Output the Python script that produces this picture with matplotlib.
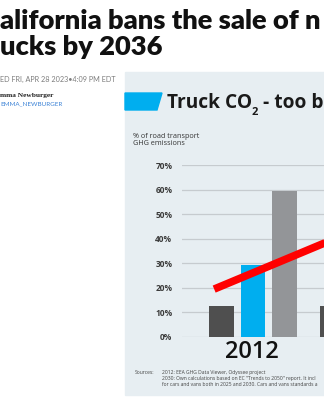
import numpy as np
from matplotlib import pyplot as plt
from matplotlib.patches import Rectangle, Polygon

# values (percent of road transport GHG emissions)
years = ['2012', '2030']
dark_share = [12.5, 12.5]
blue_share = [29.5, np.nan]   # 2030 bar is outside the crop
gray_share = [59.5, np.nan]
trend_vals = [19.5, 44.0]
yticks = [0, 10, 20, 30, 40, 50, 60, 70]

W, H = 324, 400


def fx(x):
    return x / W


def fy(y):
    return 1 - y / H


fig = plt.figure(figsize=(3.24, 4.0), dpi=100)
fig.patch.set_facecolor('white')

# light chart panel
fig.patches.append(Rectangle((fx(125), fy(395)), fx(324) - fx(125), fy(72) - fy(395),
                             transform=fig.transFigure, color='#e7eef2', zorder=-2))
fig.patches.append(Polygon([(fx(125), fy(93)), (fx(162), fy(93)), (fx(157), fy(110)), (fx(125), fy(110))],
                           transform=fig.transFigure, color='#00aeef', zorder=-1))

# headline
fig.text(fx(0), fy(29), 'alifornia bans the sale of n', fontsize=19.6, fontweight='heavy',
         family=['Lato', 'DejaVu Sans'], color='#111111')
fig.text(fx(0), fy(55), 'ucks by 2036', fontsize=19.6, fontweight='heavy',
         family=['Lato', 'DejaVu Sans'], color='#111111')
fig.text(fx(0), fy(82), 'ED FRI, APR 28 2023\u20224:09 PM EDT', fontsize=5.2, color='#7d7d7d',
         family=['Lato', 'DejaVu Sans'])
fig.text(fx(0), fy(97), 'mma Newburger', fontsize=5.3, fontweight='bold', color='#222222',
         family=['Liberation Serif', 'DejaVu Serif'])
fig.text(fx(0), fy(105), 'EMMA_NEWBURGER', fontsize=4.5, color='#3b82d6',
         family=['Lato', 'DejaVu Sans'])

# chart title
fig.text(fx(167), fy(108), 'Truck CO', fontsize=13.8, fontweight='bold', color='#1a1a1a',
         family=['Open Sans', 'DejaVu Sans'])
fig.text(fx(252), fy(115), '2', fontsize=8, fontweight='bold', color='#1a1a1a',
         family=['Open Sans', 'DejaVu Sans'])
fig.text(fx(263), fy(108), '- too b', fontsize=13.8, fontweight='bold', color='#1a1a1a',
         family=['Open Sans', 'DejaVu Sans'])

fig.text(fx(133), fy(145), '% of road transport\nGHG emissions', fontsize=5.2, color='#333333',
         family=['Open Sans', 'DejaVu Sans'], linespacing=1.05, va='baseline')

ax = fig.add_axes([fx(182), fy(337), fx(324) - fx(182), fy(165) - fy(337)])
ax.set_facecolor('none')
ax.set_zorder(2)

x = np.arange(len(years))
bw = 0.225
off = 0.287
ax.bar(x - off, dark_share, bw, color='#4f4f4f', zorder=3)
ax.bar(x, blue_share, bw, color='#00aeef', zorder=3)
ax.bar(x + off, gray_share, bw, color='#939598', zorder=3)

# red trend arrow
ax.plot([x[0] - 0.35, x[1] - 0.05], trend_vals, color='#ff0000', lw=5.5,
        solid_capstyle='butt', zorder=4)

for v in yticks:
    ax.axhline(v, color='#c6cbcf', lw=0.9, zorder=1)

ax.set_xlim(-0.64, 0.64)
ax.set_ylim(0, 70)
ax.set_yticks(yticks)
ax.set_yticklabels([str(v) + '%' for v in yticks], fontsize=6, fontweight='bold',
                   color='#3a3a3a', family=['Open Sans', 'DejaVu Sans'])
ax.tick_params(axis='y', length=0, pad=7)
ax.set_xticks([])
for s in ax.spines.values():
    s.set_visible(False)

fig.text(fx(252), fy(358), years[0], fontsize=17, fontweight='semibold', color='#111111', ha='center',
         family=['Open Sans', 'DejaVu Sans'])

# sources
src = dict(fontsize=3.6, color='#444444', family=['Open Sans', 'DejaVu Sans'])
fig.text(fx(135), fy(374), 'Sources:', **src)
fig.text(fx(162), fy(374), '2012: EEA GHG Data Viewer, Odyssee project', **src)
fig.text(fx(162), fy(380), '2030: Own calculations based on EC "Trends to 2050" report. It incl', **src)
fig.text(fx(162), fy(386), 'for cars and vans both in 2025 and 2030. Cars and vans standards a', **src)

plt.savefig('out.png', dpi=100)
